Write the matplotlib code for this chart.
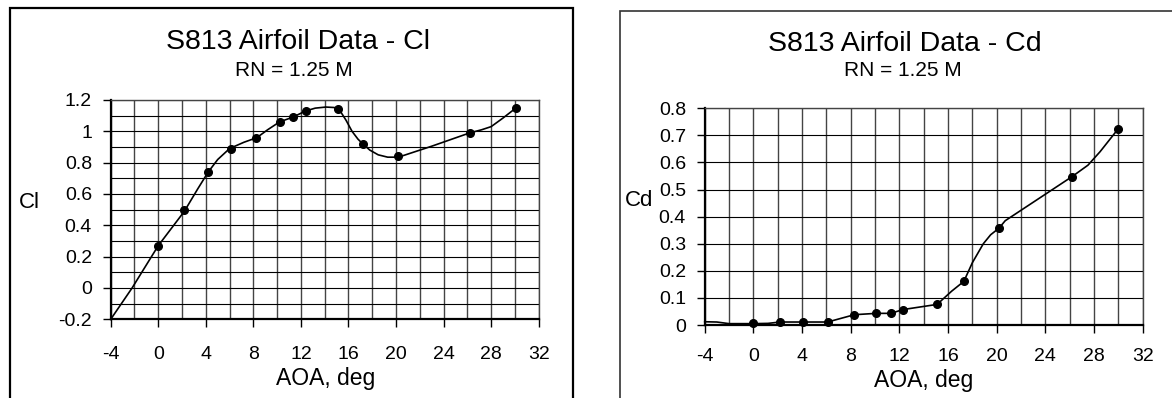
import matplotlib.pyplot as plt
from matplotlib.patches import Rectangle
from matplotlib.ticker import MultipleLocator

plt.rcParams['font.family'] = ['Liberation Sans', 'DejaVu Sans']
plt.rcParams['axes.unicode_minus'] = False

# measured points (markers)
aoa_pts = [0.0, 2.2, 4.2, 6.1, 8.2, 10.2, 11.3, 12.4, 15.1, 17.2, 20.2, 26.2, 30.1]
cl_pts = [0.27, 0.50, 0.74, 0.89, 0.96, 1.06, 1.09, 1.13, 1.14, 0.92, 0.84, 0.99, 1.15]
aoa_cd_pts = [0.0, 2.2, 4.1, 6.1, 8.3, 10.1, 11.3, 12.3, 15.1, 17.3, 20.2, 26.2, 30.0]
cd_pts = [0.006, 0.011, 0.011, 0.011, 0.038, 0.043, 0.043, 0.057, 0.076, 0.161, 0.358, 0.548, 0.725]

# faired curves
aoa_cl_curve = [-4.0, -2.2, 0.0, 1.0, 2.2, 3.3, 4.2, 5.0, 6.0, 7.2, 8.3, 9.2, 10.2, 11.3,
                12.4, 13.2, 14.1, 14.8, 15.3, 15.8, 16.3, 16.8, 17.2, 17.8, 18.5, 19.3,
                20.2, 23.0, 26.2, 27.2, 28.0, 29.0, 30.1]
cl_curve = [-0.20, 0.0, 0.27, 0.37, 0.49, 0.63, 0.74, 0.82, 0.89, 0.93, 0.96, 1.01, 1.06, 1.09,
            1.13, 1.148, 1.155, 1.152, 1.13, 1.07, 1.00, 0.95, 0.92, 0.88, 0.85, 0.835,
            0.835, 0.905, 0.99, 1.01, 1.03, 1.085, 1.15]
aoa_cd_curve = [-4.0, -3.0, -2.0, 0.0, 1.2, 2.2, 4.1, 6.1, 8.3, 10.1, 11.3, 12.3, 15.1, 16.3,
                17.3, 18.0, 18.9, 19.5, 20.2, 20.7, 26.2, 27.5, 28.5, 30.0]
cd_curve = [0.012, 0.011, 0.005, 0.005, 0.006, 0.011, 0.011, 0.011, 0.038, 0.043, 0.043, 0.057,
            0.076, 0.125, 0.161, 0.230, 0.300, 0.333, 0.358, 0.385, 0.548, 0.590, 0.640, 0.725]

W, H = 1172, 398
fig = plt.figure(figsize=(W / 100, H / 100), dpi=100)


def fx(px):
    return px / W


def fy(py):
    return 1 - py / H


# chart borders
fig.add_artist(Rectangle((fx(10), -0.1), fx(573 - 10), fy(8) + 0.1, transform=fig.transFigure,
                         fill=False, edgecolor='black', linewidth=1.6, clip_on=False))
fig.add_artist(Rectangle((fx(620), -0.1), 0.6, fy(11) + 0.1, transform=fig.transFigure,
                         fill=False, edgecolor='#333333', linewidth=1.2, clip_on=False))

ax1 = fig.add_axes([fx(110.7), fy(319.3), fx(538.7 - 110.7), (319.3 - 100) / H])
ax2 = fig.add_axes([fx(704.7), fy(325), fx(1142.7 - 704.7), (325 - 108.3) / H])


def style(ax, ymajor, yminor, ylim, xpad):
    ax.set_xlim(-4, 32)
    ax.set_ylim(*ylim)
    ax.xaxis.set_major_locator(MultipleLocator(4))
    ax.xaxis.set_minor_locator(MultipleLocator(2))
    ax.yaxis.set_major_locator(MultipleLocator(ymajor))
    if yminor:
        ax.yaxis.set_minor_locator(MultipleLocator(yminor))
    ax.grid(True, axis='x', which='both', color='#444444', linewidth=1.0)
    ax.grid(True, axis='y', which='both', color='black', linewidth=0.8)
    ax.set_axisbelow(True)
    ax.tick_params(which='major', direction='out', length=5.5, width=1.0, labelsize=14)
    ax.tick_params(which='minor', length=0)
    ax.tick_params(axis='x', pad=xpad)
    ax.tick_params(axis='y', pad=8)
    for s in ['left', 'bottom']:
        ax.spines[s].set_linewidth(1.6)
        ax.spines[s].set_color('black')
    for s in ['top', 'right']:
        ax.spines[s].set_linewidth(1.0)
        ax.spines[s].set_color('#444444')


style(ax1, 0.2, 0.1, (-0.2, 1.2), 14)
style(ax2, 0.1, None, (0, 0.8), 11)
ax1.yaxis.set_major_formatter(lambda v, p: f'{v:g}')
ax2.yaxis.set_major_formatter(lambda v, p: f'{v:g}')

ax1.plot(aoa_cl_curve, cl_curve, color='black', linewidth=1.2, clip_on=False)
ax1.plot(aoa_pts, cl_pts, 'o', color='black', markersize=5.5, clip_on=False)
ax2.plot(aoa_cd_curve, cd_curve, color='black', linewidth=1.2, clip_on=False)
ax2.plot(aoa_cd_pts, cd_pts, 'o', color='black', markersize=5.5, clip_on=False)

# titles and axis labels
fig.text(fx(297.7), fy(42), 'S813 Airfoil Data - Cl', ha='center', va='center', fontsize=20.5)
fig.text(fx(294), fy(70), 'RN = 1.25 M', ha='center', va='center', fontsize=15)
fig.text(fx(904.5), fy(44), 'S813 Airfoil Data - Cd', ha='center', va='center', fontsize=20.5)
fig.text(fx(902.7), fy(71), 'RN = 1.25 M', ha='center', va='center', fontsize=15)

fig.text(fx(326), fy(379), 'AOA, deg', ha='center', va='center', fontsize=16.5)
fig.text(fx(924), fy(380), 'AOA, deg', ha='center', va='center', fontsize=16.5)
fig.text(fx(29), fy(202), 'Cl', ha='center', va='center', fontsize=16)
fig.text(fx(639), fy(201), 'Cd', ha='center', va='center', fontsize=16)

fig.savefig('out.png', dpi=100)
